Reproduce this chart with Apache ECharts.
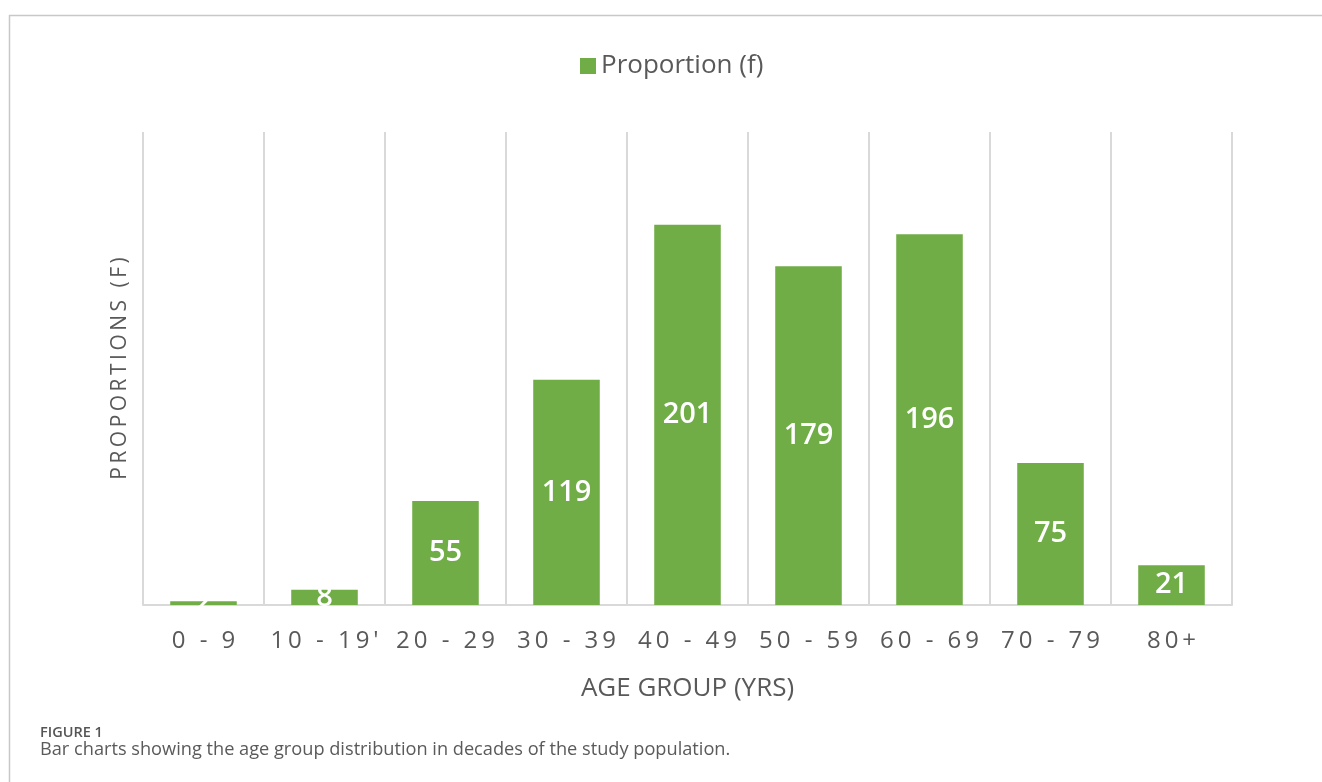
<!DOCTYPE html>
<html>
<head>
<meta charset="utf-8">
<script src="https://cdn.jsdelivr.net/npm/echarts@6/dist/echarts.min.js"></script>
<style>
html,body{margin:0;padding:0;background:#fff;}
#chart{width:1322px;height:782px;}
</style>
</head>
<body>
<div id="chart"></div>
<script>
const categories = ["0 - 9", "10 - 19'", "20 - 29", "30 - 39", "40 - 49", "50 - 59", "60 - 69", "70 - 79", "80+"];
const proportions = [2, 8, 55, 119, 201, 179, 196, 75, 21];
const seriesName = "Proportion (f)";
const xAxisTitle = "AGE GROUP (YRS)";
const yAxisTitle = "PROPORTIONS (F)";
const captionTitle = "FIGURE 1";
const captionText = "Bar charts showing the age group distribution in decades of the study population.";

const chart = echarts.init(document.getElementById('chart'), null, {renderer: 'canvas'});
const textColor = '#595959';
const font = '"Open Sans", "Noto Sans", sans-serif';
const spaced = (s, sep) => s.split('').join(sep);

chart.setOption({
  animation: false,
  backgroundColor: '#ffffff',
  textStyle: {fontFamily: font},
  legend: {
    left: 575, top: 48,
    itemWidth: 16, itemHeight: 16, itemGap: 8,
    icon: 'rect',
    textStyle: {color: textColor, fontSize: 26, fontFamily: font},
    data: [seriesName]
  },
  grid: {left: 143, right: 90, top: 132, bottom: 177, containLabel: false},
  xAxis: {
    type: 'category',
    data: categories,
    axisLine: {show: true, lineStyle: {color: '#d9d9d9', width: 2}},
    axisTick: {show: false, interval: 0},
    splitLine: {show: true, interval: 0, lineStyle: {color: '#d9d9d9', width: 2}},
    axisLabel: {
      interval: 0, hideOverlap: false,
      color: textColor, fontSize: 24, margin: 24, fontFamily: font,
      formatter: v => spaced(v, '\u2009')
    },
    name: xAxisTitle,
    nameLocation: 'middle',
    nameGap: 71,
    nameTextStyle: {color: textColor, fontSize: 26, fontFamily: font}
  },
  yAxis: {
    type: 'value',
    min: 0, max: 250,
    axisLine: {show: false},
    axisTick: {show: false},
    axisLabel: {show: false},
    splitLine: {show: false},
    name: spaced(yAxisTitle, '\u2009'),
    nameLocation: 'middle',
    nameGap: 12,
    nameTextStyle: {color: textColor, fontSize: 21, fontFamily: font}
  },
  series: [{
    name: seriesName,
    type: 'bar',
    data: proportions,
    barCategoryGap: '45%',
    itemStyle: {color: '#70ad47'},
    label: {
      show: true, position: 'inside',
      color: '#ffffff', fontSize: 29, fontWeight: 600, fontFamily: font
    }
  }],
  graphic: [
    {type: 'line', shape: {x1: 9, y1: 15.5, x2: 1322, y2: 15.5}, style: {stroke: '#c8c8c8', lineWidth: 1.5}},
    {type: 'line', shape: {x1: 9.5, y1: 15, x2: 9.5, y2: 782}, style: {stroke: '#c8c8c8', lineWidth: 1.5}},
    {type: 'text', left: 40, top: 725, style: {text: captionTitle, fill: '#555555', font: '600 14.5px "Open Sans", sans-serif'}},
    {type: 'text', left: 40, top: 741, style: {text: captionText, fill: '#5a5a5a', font: '18.2px "Open Sans", sans-serif'}}
  ]
});
</script>
</body>
</html>
